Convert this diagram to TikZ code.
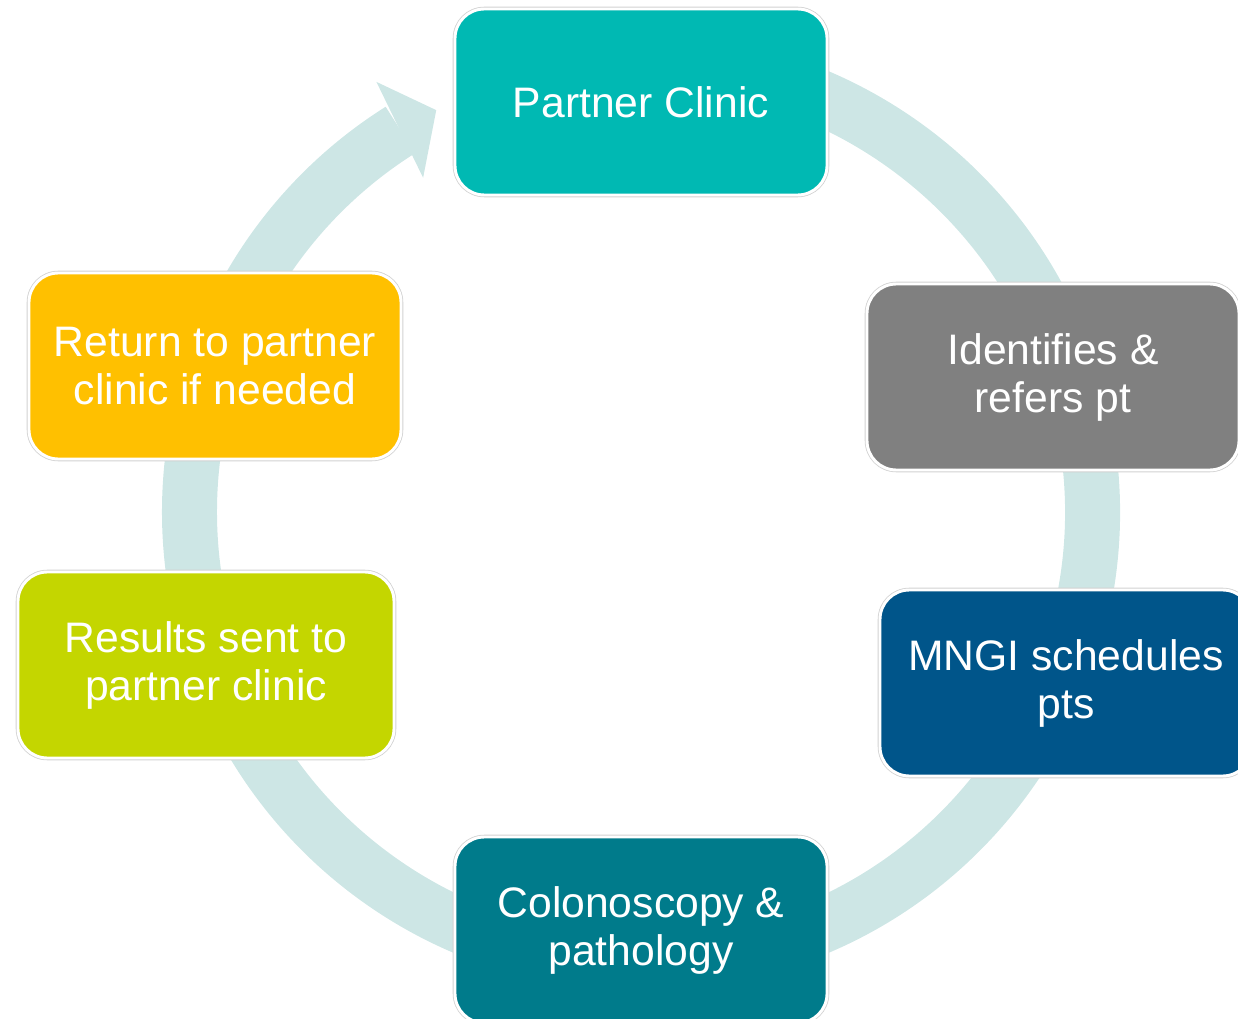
\documentclass[tikz,border=0pt]{standalone}
\usepackage{fontspec}
\setmainfont{Liberation Sans}
\usetikzlibrary{calc}
\definecolor{ring}{HTML}{CDE6E5}
\definecolor{clinic}{HTML}{00B9B3}
\definecolor{refer}{HTML}{808080}
\definecolor{mngi}{HTML}{00558A}
\definecolor{colo}{HTML}{007B8B}
\definecolor{results}{HTML}{C4D600}
\definecolor{back}{HTML}{FFC000}
\begin{document}
\begin{tikzpicture}[x=0.75pt, y=0.75pt,
    stage/.style={rounded corners=22pt, minimum width=279pt, minimum height=139.5pt,
      inner sep=0pt, align=center, text=white, font=\fontsize{32}{36}\selectfont,
      preaction={draw=black!18, line width=3.4pt}, draw=white, line width=2.2pt}]
  \useasboundingbox (0,0) rectangle (1238,-1019);
  \clip (0,0) rectangle (1238,-1019);
  % ring behind the boxes
  \coordinate (hub) at (641,-512);
  \draw[ring, line width=41.25pt] (hub) ++(100:451.5) arc[start angle=100, end angle=-237.8, radius=451.5];
  % arrow head
  \fill[ring] ($(hub)+(121.6:505)$) -- ($(hub)+(117:451)$) -- ($(hub)+(123.1:399)$) -- cycle;
  % stages
  \node[stage, fill=clinic] (partner) at (641,-102) {Partner Clinic};
  \node[stage, fill=refer] (refers) at (1053,-377) {Identifies \&\\refers pt};
  \node[stage, fill=mngi] (sched) at (1066,-683) {MNGI schedules\\pts};
  \node[stage, fill=colo] (scope) at (641,-930) {Colonoscopy \&\\pathology};
  \node[stage, fill=results, minimum width=282pt] (sent) at (206,-665) {Results sent to\\partner clinic};
  \node[stage, fill=back] (return) at (215,-366) {Return to partner\\clinic if needed};
\end{tikzpicture}
\end{document}
